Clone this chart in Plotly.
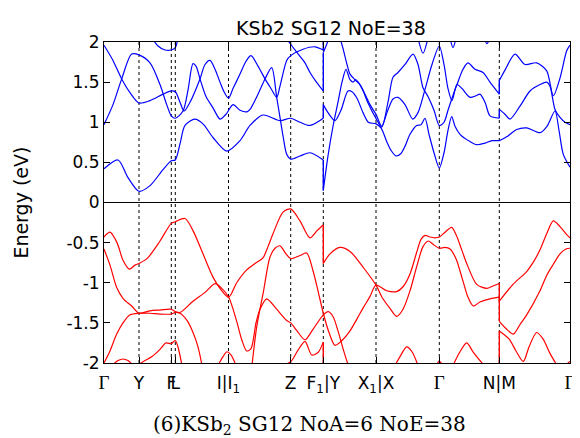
import plotly.graph_objects as go

# ---- high-symmetry path (k in arbitrary path units) ----
kpt_pos = [0.0, 0.35, 0.673, 0.713, 1.245, 1.867, 2.193, 2.72, 3.353, 3.953, 4.66]
G = '<span style="font-family:Liberation Serif;font-size:19px">Γ</span>'
kpt_text = [G, "Y", "F", "L", "I|I<sub>1</sub>", "Z", "F<sub>1</sub>|Y",
            "X<sub>1</sub>|X", G, "N|M", G]

# ---- conduction bands (eV) ----
c1_k = [0, .14, .24, .35, .46, .59, .673, .713, .76, .81, .91, .99, 1.09, 1.227, 1.36, 1.46, 1.59, 1.76, 1.867, 1.96, 2.06, 2.193]
c1_e = [.42, .53, .31, .14, .21, .41, .52, .53, .73, .96, 1.04, .98, .81, .64, .77, .96, 1.09, 1.02, 1.05, 1.0, .96, 1.05]

c2_k = [0, .09, .177, .277, .35, .46, .56, .627, .673, .713, .79, .84, .89, .92, .96, 1.02, 1.09, 1.16, 1.22, 1.29, 1.36, 1.43, 1.46, 1.54, 1.61, 1.677, 1.727, 1.76, 1.793, 1.827, 1.867, 1.96, 2.06, 2.193]
c2_e = [.97, 1.22, 1.54, 1.85, 1.84, 1.74, 1.47, 1.22, 1.08, 1.05, 1.14, 1.4, 1.73, 1.70, 1.54, 1.32, 1.18, 1.04, 1.10, 1.22, 1.15, 1.13, 1.16, 1.35, 1.54, 1.68, 1.31, 1.06, .81, .60, .54, .58, .62, .53]

c3_k = [0, .09, .177, .26, .35, .46, .59, .673, .713, .76, .80, .86, .96, 1.01, 1.06, 1.11, 1.16, 1.20, 1.245, 1.29, 1.36, 1.42, 1.47, 1.54, 1.61, 1.67, 1.727, 1.76, 1.827, 1.867, 1.99, 2.11, 2.193]
c3_e = [1.96, 1.77, 1.54, 1.37, 1.24, 1.27, 1.35, 1.39, 1.38, 1.25, 1.14, 1.25, 1.54, 1.72, 1.77, 1.66, 1.50, 1.38, 1.30, 1.42, 1.60, 1.76, 1.83, 1.70, 1.54, 1.42, 1.31, 1.45, 1.77, 1.83, 1.91, 1.94, 1.90]

c4_k = [1.82, 1.88, 1.96, 2.01, 2.06, 2.13, 2.193]
c4_e = [2.05, 1.95, 1.82, 1.74, 1.62, 1.49, 1.39]

c5_k = [.48, .54, .61, .673, .713, .74]
c5_e = [2.05, 1.95, 1.90, 1.90, 1.93, 2.05]

b1_k = [2.193, 2.24, 2.29, 2.34, 2.38, 2.42, 2.46, 2.49, 2.52, 2.58, 2.64, 2.71, 2.777, 2.84, 2.89, 2.94, 3.01, 3.09, 3.14, 3.19, 3.24, 3.30, 3.353, 3.40, 3.44, 3.48, 3.53, 3.59, 3.64, 3.71, 3.79, 3.86, 3.953]
b1_e = [.15, .58, .95, 1.25, 1.50, 1.66, 1.53, 1.50, 1.53, 1.42, 1.24, 1.07, .94, 1.25, 1.56, 1.62, 1.72, 1.85, 1.72, 1.43, 1.32, 1.15, .96, 1.0, 1.15, 1.30, 1.47, 1.66, 1.74, 1.66, 1.62, 1.50, 1.35]

b2_k = [2.193, 2.24, 2.31, 2.37, 2.44, 2.48, 2.53, 2.59, 2.643, 2.72, 2.77, 2.83, 2.87, 2.92, 2.97, 3.01, 3.06, 3.127, 3.17, 3.21, 3.25, 3.30, 3.353, 3.40, 3.44, 3.477, 3.51, 3.56, 3.66, 3.73, 3.81, 3.88, 3.953]
b2_e = [1.22, 1.12, 1.02, 1.15, 1.39, 1.38, 1.30, 1.12, 1.0, .98, .93, .75, .65, .58, .61, .70, .85, .96, .97, 1.05, .85, .62, .43, .62, .90, 1.07, .95, .85, .76, .72, .74, .77, .77]

b3_k = [2.36, 2.39, 2.43, 2.46, 2.51, 2.56, 2.61, 2.66, 2.72, 2.777, 2.83, 2.89, 2.94, 3.01, 3.087, 3.14, 3.21, 3.28, 3.353, 3.40, 3.44, 3.48, 3.53, 3.58, 3.66, 3.72, 3.76, 3.81, 3.86, 3.953]
b3_e = [2.05, 1.92, 1.72, 1.60, 1.53, 1.47, 1.35, 1.22, 1.10, .95, 1.12, 1.29, 1.31, 1.22, 1.04, 1.12, 1.41, 1.72, 1.95, 1.72, 1.42, 1.27, 1.47, 1.42, 1.31, 1.33, 1.35, 1.25, 1.08, 1.05]

b4_k = [2.193, 2.22, 2.25]
b4_e = [1.87, 1.95, 2.05]
b5_k = [3.14, 3.19, 3.24]
b5_e = [2.05, 1.86, 2.05]
b6_k = [3.46, 3.49, 3.52]
b6_e = [2.05, 1.93, 2.05]
b7_k = [3.80, 3.83, 3.86]
b7_e = [2.05, 1.98, 2.05]

m1_k = [3.953, 4.01, 4.11, 4.21, 4.327, 4.427, 4.493, 4.56, 4.627, 4.66]
m1_e = [1.52, 1.65, 1.85, 1.72, 1.74, 1.64, 1.33, 1.55, 1.89, 1.96]
m2_k = [3.953, 4.01, 4.06, 4.16, 4.26, 4.36, 4.427, 4.46, 4.51, 4.56, 4.61, 4.66]
m2_e = [1.16, 1.10, 1.04, 1.20, 1.39, 1.47, 1.50, 1.45, 1.16, 1.06, 1.0, .97]
m3_k = [3.953, 4.04, 4.127, 4.227, 4.36, 4.43, 4.51, 4.55, 4.593, 4.66]
m3_e = [.77, .83, .91, .93, .87, .95, 1.14, .90, .60, .44]

# ---- valence bands (eV) ----
v1_k = [0, .06, .13, .19, .253, .31, .35, .43, .56, .673, .713, .81, .89, .99, 1.09, 1.16, 1.247, 1.327, 1.427, 1.51, 1.59, 1.64, 1.69, 1.79, 1.867, 1.96, 2.06, 2.13, 2.193]
v1_e = [-.43, -.37, -.50, -.72, -.83, -.78, -.76, -.70, -.48, -.26, -.24, -.20, -.35, -.64, -.93, -1.07, -1.18, -1.0, -.84, -.76, -.69, -.55, -.39, -.12, -.08, -.23, -.44, -.35, -.28]

v2_k = [0, .06, .127, .193, .277, .35, .46, .56, .673, .713, .76, .89, 1.01, 1.11, 1.17, 1.247, 1.32, 1.38, 1.427, 1.47, 1.52, 1.56, 1.627, 1.72, 1.827, 1.867, 1.93, 2.01, 2.09, 2.193, 2.243, 2.29, 2.34, 2.39, 2.443]
v2_e = [-.58, -.78, -1.06, -1.20, -1.29, -1.38, -1.35, -1.34, -1.33, -1.36, -1.37, -1.23, -1.12, -1.01, -1.06, -1.18, -1.45, -1.72, -1.85, -1.82, -1.50, -1.33, -1.20, -1.32, -1.47, -1.50, -1.60, -1.71, -1.58, -1.40, -1.36, -1.42, -1.60, -1.82, -2.03]

v3_k = [0, .06, .127, .19, .26, .35, .46, .56, .673, .713, .76, .83, .89, .94, .98]
v3_e = [-2.0, -1.85, -1.64, -1.50, -1.40, -1.38, -1.38, -1.39, -1.39, -1.37, -1.38, -1.47, -1.62, -1.80, -2.03]

v4_k = [1.48, 1.527, 1.593, 1.66, 1.71, 1.76, 1.82, 1.867, 1.96, 2.027, 2.09, 2.14, 2.193, 2.25, 2.31, 2.38, 2.46, 2.53, 2.593, 2.66, 2.72, 2.827, 2.927, 2.99, 3.06, 3.127, 3.17, 3.21, 3.26, 3.31, 3.353, 3.41, 3.477, 3.52, 3.58, 3.63, 3.727, 3.827, 3.89, 3.953]
v4_e = [-2.03, -1.55, -1.12, -.68, -.57, -.54, -.64, -.70, -.66, -.63, -.85, -1.10, -1.38, -1.62, -1.78, -1.72, -1.60, -1.45, -1.31, -1.17, -1.03, -1.10, -1.11, -1.05, -.89, -.62, -.46, -.41, -.43, -.44, -.43, -.37, -.31, -.40, -.60, -.77, -1.02, -1.07, -1.04, -1.01]

v5_k = [2.193, 2.26, 2.36, 2.46, 2.593, 2.72, 2.78, 2.86, 2.927, 2.99, 3.06, 3.127, 3.19, 3.243, 3.29, 3.353, 3.41, 3.46, 3.52, 3.59, 3.64, 3.693, 3.76, 3.86, 3.953]
v5_e = [-.76, -.64, -.56, -.61, -.81, -1.03, -1.18, -1.32, -1.42, -1.33, -1.10, -.80, -.55, -.48, -.52, -.57, -.56, -.58, -.70, -.98, -1.18, -1.29, -1.24, -1.20, -1.18]

w1_k = [.08, .14, .19, .24, .29]
w1_e = [-2.03, -1.97, -1.95, -1.97, -2.03]
w2_k = [.33, .41, .48, .56, .62, .673, .69, .713, .74, .78]
w2_e = [-2.03, -1.97, -1.92, -1.83, -1.75, -1.76, -1.74, -1.72, -1.80, -2.03]
w3_k = [1.14, 1.19, 1.23, 1.27, 1.32]
w3_e = [-2.03, -1.92, -1.86, -1.90, -2.03]
w4_k = [1.79, 1.87, 1.94, 2.01, 2.077, 2.14, 2.193]
w4_e = [-2.03, -1.98, -1.84, -1.73, -1.90, -1.87, -1.74]
w5_k = [2.91, 2.96, 3.027, 3.08, 3.14]
w5_e = [-2.03, -1.92, -1.80, -1.86, -2.03]
w6_k = [3.32, 3.353, 3.39]
w6_e = [-2.03, -1.98, -2.03]
w7_k = [3.49, 3.56, 3.627, 3.69, 3.80]
w7_e = [-2.03, -1.86, -1.75, -1.86, -2.03]

n1_k = [3.953, 4.09, 4.227, 4.29, 4.36, 4.43, 4.493, 4.56, 4.627, 4.66]
n1_e = [-1.23, -1.02, -.86, -.75, -.59, -.38, -.23, -.30, -.40, -.44]
n2_k = [3.953, 4.02, 4.093, 4.16, 4.227, 4.36, 4.43, 4.493, 4.56, 4.62, 4.66]
n2_e = [-1.48, -1.57, -1.64, -1.52, -1.40, -1.10, -.90, -.77, -.64, -.58, -.57]
n3_k = [3.953, 4.05, 4.12, 4.193, 4.25, 4.327, 4.39, 4.46, 4.53]
n3_e = [-1.60, -1.70, -1.85, -1.98, -1.80, -1.62, -1.70, -1.88, -2.03]
n4_k = [4.61, 4.66]
n4_e = [-2.03, -1.98]

# ---- band discontinuities (k, E left, E right) ----
jump_cb_k = [2.193, 2.193, 2.193, 2.193, 3.953, 3.953]
jump_cb_from = [0.53, 1.05, 1.39, 1.90, 1.35, 1.05]
jump_cb_to = [0.15, 1.22, 1.87, 2.05, 1.52, 1.16]
jump_vb_k = [2.193, 2.193, 3.953, 3.953, 3.953]
jump_vb_from = [-0.28, -1.74, -1.01, -1.18, -2.03]
jump_vb_to = [-0.76, -2.03, -1.23, -1.48, -1.60]

BLUE = "#0000ff"
RED = "#ff0000"

cond = [(c1_k, c1_e), (c2_k, c2_e), (c3_k, c3_e), (c4_k, c4_e), (c5_k, c5_e),
        (b1_k, b1_e), (b2_k, b2_e), (b3_k, b3_e), (b4_k, b4_e), (b5_k, b5_e),
        (b6_k, b6_e), (b7_k, b7_e), (m1_k, m1_e), (m2_k, m2_e), (m3_k, m3_e)]
val = [(v1_k, v1_e), (v2_k, v2_e), (v3_k, v3_e), (v4_k, v4_e), (v5_k, v5_e),
       (w1_k, w1_e), (w2_k, w2_e), (w3_k, w3_e), (w4_k, w4_e), (w5_k, w5_e),
       (w6_k, w6_e), (w7_k, w7_e), (n1_k, n1_e), (n2_k, n2_e), (n3_k, n3_e),
       (n4_k, n4_e)]

fig = go.Figure()
for bands, col in ((cond, BLUE), (val, RED)):
    for k, e in bands:
        fig.add_trace(go.Scatter(x=k, y=e, mode="lines",
                                 line=dict(color=col, width=1.2, shape="spline", smoothing=0.8),
                                 hoverinfo="skip", showlegend=False))
for ks, e0, e1, col in ((jump_cb_k, jump_cb_from, jump_cb_to, BLUE),
                        (jump_vb_k, jump_vb_from, jump_vb_to, RED)):
    for k, a, b in zip(ks, e0, e1):
        fig.add_trace(go.Scatter(x=[k, k], y=[a, b], mode="lines",
                                 line=dict(color=col, width=1.4),
                                 hoverinfo="skip", showlegend=False))

# dotted high-symmetry lines
for k in kpt_pos[1:-1]:
    fig.add_shape(type="line", xref="x", yref="paper", x0=k, x1=k, y0=0, y1=1,
                  line=dict(color="black", width=1, dash="dot"), layer="below")
# Fermi level
fig.add_shape(type="line", xref="paper", yref="y", x0=0, x1=1, y0=0, y1=0,
              line=dict(color="black", width=1), layer="below")

ytick_vals = [-2, -1.5, -1, -0.5, 0, 0.5, 1, 1.5, 2]
ytick_text = ["-2", "-1.5", "-1", "-0.5", "0", "0.5", "1", "1.5", "2"]

SANS = "DejaVu Sans"
FS = 17
fig.update_layout(
    width=572, height=430,
    margin=dict(l=96, r=10, t=34, b=75, autoexpand=False),
    paper_bgcolor="white", plot_bgcolor="white",
    title=dict(text="KSb2 SG12 NoE=38", x=0.487, xref="paper", xanchor="center",
               y=1 - 20 / 430, yref="container", yanchor="middle",
               font=dict(family=SANS, size=19, color="black")),
    font=dict(family=SANS, size=FS, color="black"),
    xaxis=dict(range=[0, 4.66], tickmode="array", tickvals=kpt_pos, ticktext=kpt_text,
               tickangle=0, automargin=False, ticklabelstandoff=5,
               ticks="inside", ticklen=6, tickcolor="black", mirror="ticks",
               showline=True, linecolor="black", linewidth=1, showgrid=False,
               zeroline=False, tickfont=dict(family=SANS, size=FS)),
    yaxis=dict(range=[-2, 2], tickmode="array", tickvals=ytick_vals, ticktext=ytick_text,
               automargin=False,
               ticks="inside", ticklen=6, tickcolor="black", mirror="ticks",
               showline=True, linecolor="black", linewidth=1, showgrid=False,
               zeroline=False, tickfont=dict(family=SANS, size=FS)),
    annotations=[
        dict(text="Energy (eV)", xref="paper", yref="paper", x=-0.18, y=0.5,
             textangle=-90, showarrow=False, xanchor="center", yanchor="middle",
             font=dict(family=SANS, size=19)),
        dict(text="(6)KSb<sub>2</sub> SG12 NoA=6 NoE=38", xref="paper", yref="paper",
             x=0.44, y=-0.193, showarrow=False, xanchor="center", yanchor="middle",
             font=dict(family="DejaVu Serif", size=20)),
    ],
)

fig.write_html("out.html")
